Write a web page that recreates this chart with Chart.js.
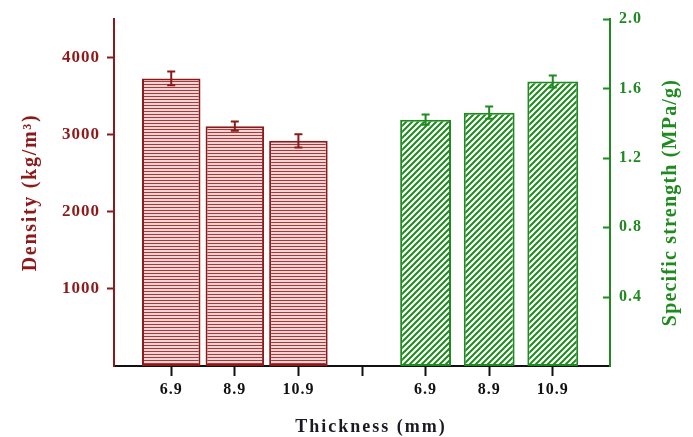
<!DOCTYPE html>
<html>
<head>
<meta charset="utf-8">
<script src="https://cdn.jsdelivr.net/npm/chart.js@4"></script>
<style>
  html, body { margin: 0; padding: 0; background: #fff; }
  #box { width: 693px; height: 437px; }
</style>
</head>
<body>
<div id="box"><canvas id="myChart"></canvas></div>
<script>
// ==== données ====
const epaisseurs = ['6.9', '8.9', '10.9'];
const densite = [3730, 3110, 2920];          // kg/m3
const densiteErr = [90, 60, 85];
const resistance = [1.42, 1.46, 1.64];       // MPa/g
const resistanceErr = [0.03, 0.035, 0.035];
const ticksGauche = [1000, 2000, 3000, 4000];
const ticksDroite = [0.4, 0.8, 1.2, 1.6, 2.0];
const etiquettesX = ['6.9', '8.9', '10.9', '', '6.9', '8.9', '10.9'];

const ROUGE = '#8b1a1a';
const VERT = '#1f8a1f';
const police = 'Liberation Serif, Times New Roman, serif';

// motifs de remplissage (hachures)
function motifRouge() {
  const c = document.createElement('canvas');
  c.width = 4; c.height = 3;
  const g = c.getContext('2d');
  g.fillStyle = '#f2d4d4';
  g.fillRect(0, 0, 4, 3);
  g.fillStyle = '#a63a3a';
  g.fillRect(0, 0, 4, 1);
  return g.createPattern(c, 'repeat');
}
function motifVert() {
  const s = 6;
  const c = document.createElement('canvas');
  c.width = s; c.height = s;
  const g = c.getContext('2d');
  g.fillStyle = '#fff';
  g.fillRect(0, 0, s, s);
  g.strokeStyle = VERT;
  g.lineWidth = 2;
  g.beginPath();
  g.moveTo(0, s); g.lineTo(s, 0);
  g.moveTo(-1, 1); g.lineTo(1, -1);
  g.moveTo(s - 1, s + 1); g.lineTo(s + 1, s - 1);
  g.stroke();
  return g.createPattern(c, 'repeat');
}

const data = {
  datasets: [{
    label: 'Density',
    data: epaisseurs.map((e, i) => ({x: i + 1, y: densite[i]})),
    erreurs: densiteErr,
    yAxisID: 'y',
    backgroundColor: motifRouge(),
    borderColor: ROUGE,
    borderWidth: 2,
    borderSkipped: false,
    barPercentage: 1,
    categoryPercentage: 0.92
  }, {
    label: 'Specific strength',
    data: epaisseurs.map((e, i) => ({x: i + 5, y: resistance[i]})),
    erreurs: resistanceErr,
    yAxisID: 'y1',
    backgroundColor: motifVert(),
    borderColor: VERT,
    borderWidth: 2,
    borderSkipped: false,
    barPercentage: 1,
    categoryPercentage: 0.8
  }]
};

// texte un peu étiré comme sur la figure
const Espacement = {
  id: 'Espacement',
  beforeDraw(chart) { chart.ctx.letterSpacing = '1px'; },
  afterDraw(chart) { chart.ctx.letterSpacing = '0px'; }
};

// barres d'erreur
const BarresErreur = {
  id: 'BarresErreur',
  afterDatasetsDraw(chart) {
    const {ctx} = chart;
    ctx.save();
    chart.data.datasets.forEach((ds, d) => {
      const meta = chart.getDatasetMeta(d);
      const y = chart.scales[ds.yAxisID];
      ctx.strokeStyle = ds.borderColor;
      ctx.lineWidth = 2;
      meta.data.forEach((bar, i) => {
        const v = ds.data[i].y, e = ds.erreurs[i];
        const haut = y.getPixelForValue(v + e), bas = y.getPixelForValue(v - e);
        ctx.beginPath();
        ctx.moveTo(bar.x, haut); ctx.lineTo(bar.x, bas);
        ctx.moveTo(bar.x - 4, haut); ctx.lineTo(bar.x + 4, haut);
        ctx.moveTo(bar.x - 4, bas); ctx.lineTo(bar.x + 4, bas);
        ctx.stroke();
      });
    });
    ctx.restore();
  }
};

function titre(ctx, texte, x, y, angle, couleur, taille, espace) {
  ctx.save();
  ctx.translate(x, y);
  ctx.rotate(angle);
  ctx.font = 'bold ' + taille + 'px ' + police;
  ctx.letterSpacing = espace + 'px';
  ctx.fillStyle = couleur;
  ctx.textAlign = 'center';
  ctx.textBaseline = 'middle';
  ctx.fillText(texte, 0, 0);
  ctx.restore();
}

// graduations intérieures à droite + titres des axes
const Axes = {
  id: 'Axes',
  afterDraw(chart) {
    const {ctx, chartArea: {top, bottom, left, right}} = chart;
    const y1 = chart.scales.y1;
    ctx.save();
    ctx.strokeStyle = VERT;
    ctx.lineWidth = 2;
    ticksDroite.forEach(v => {
      const py = Math.round(y1.getPixelForValue(v)) + 0.5;
      ctx.beginPath();
      ctx.moveTo(right - 7, py); ctx.lineTo(right, py);
      ctx.stroke();
    });
    ctx.restore();
    titre(ctx, 'Density (kg/m³)', left - 83, (top + bottom) / 2, -Math.PI / 2, ROUGE, 20, 1.7);
    titre(ctx, 'Specific strength (MPa/g)', right + 61, (top + bottom) / 2 + 10, -Math.PI / 2, VERT, 20, 1.2);
    titre(ctx, 'Thickness (mm)', (left + right) / 2 + 9, bottom + 61, 0, '#1a1a22', 18, 2);
  }
};

const config = {
  type: 'bar',
  data,
  options: {
    responsive: true,
    maintainAspectRatio: false,
    animation: false,
    layout: { padding: { top: 19, left: 0, right: 0, bottom: 0 } },
    scales: {
      x: {
        type: 'linear',
        offset: false,
        min: 0.1,
        max: 7.9,
        afterBuildTicks: s => { s.ticks = etiquettesX.map((t, i) => ({value: i + 1})); },
        afterFit: s => { s.height = 71; },
        ticks: {
          callback: (v, i) => etiquettesX[i],
          font: { family: police, weight: 'bold', size: 16 },
          color: '#111',
          padding: 4,
          maxRotation: 0,
          autoSkip: false
        },
        grid: { drawOnChartArea: false, offset: false, color: '#111', tickLength: 10, tickWidth: 2 },
        border: { color: '#111', width: 2 }
      },
      y: {
        position: 'left',
        min: 0,
        max: 4500,
        afterBuildTicks: s => { s.ticks = ticksGauche.map(v => ({value: v})); },
        afterFit: s => { s.width = 114; },
        ticks: {
          color: ROUGE,
          font: { family: police, weight: 'bold', size: 17 },
          padding: 7,
          callback: v => String(v)
        },
        grid: { drawOnChartArea: false, color: ROUGE, tickLength: 7, tickWidth: 2 },
        border: { color: ROUGE, width: 2 }
      },
      y1: {
        position: 'right',
        min: 0,
        max: 2.0,
        afterBuildTicks: s => { s.ticks = ticksDroite.map(v => ({value: v})); },
        afterFit: s => { s.width = 83; },
        ticks: {
          color: VERT,
          font: { family: police, weight: 'bold', size: 16 },
          padding: 9,
          callback: v => v.toFixed(1)
        },
        grid: { drawOnChartArea: false, drawTicks: false, color: VERT },
        border: { color: VERT, width: 2 }
      }
    },
    datasets: { bar: { grouped: false } },
    plugins: {
      legend: { display: false },
      tooltip: { enabled: false }
    }
  },
  plugins: [Espacement, BarresErreur, Axes]
};

const myChart = new Chart(document.getElementById('myChart'), config);
</script>
</body>
</html>
